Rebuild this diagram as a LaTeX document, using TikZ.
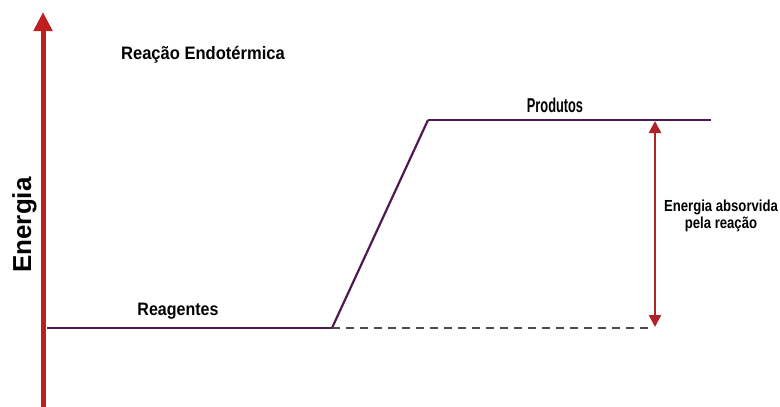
\documentclass[tikz,border=0pt]{standalone}
\usepackage{fontspec}
\setmainfont{Liberation Sans}
\usetikzlibrary{arrows.meta}
\definecolor{axisred}{RGB}{190,30,30}
\definecolor{levelpurple}{RGB}{80,25,80}
\definecolor{deltared}{RGB}{175,35,40}

\begin{document}
\begin{tikzpicture}[x=1pt,y=-1pt, level line/.style={line width=2.2pt,levelpurple}, label text/.style={font=\bfseries\fontsize{18}{17}\selectfont,inner sep=0pt,align=center,anchor=base}]
  \useasboundingbox (0,0) rectangle (780,407);

  \coordinate (a0) at (43,407);
  \coordinate (a1) at (43,12);
  \coordinate (r0) at (47,328);
  \coordinate (r1) at (332,328);
  \coordinate (p0) at (428,120);
  \coordinate (p1) at (711,120);
  \coordinate (d0) at (651,328);
  \coordinate (h0) at (655,121);
  \coordinate (h1) at (655,327);

  \node[label text,xscale=0.92] (title) at (203,59) {Reação Endotérmica};
  \node[label text,xscale=0.89] (reag) at (178,315) {Reagentes};
  \node[label text,font=\bfseries\fontsize{20}{17}\selectfont,xscale=0.64] (prod) at (555,112) {Produtos};
  \node[label text,font=\bfseries\fontsize{16}{17}\selectfont,xscale=0.82,anchor=center] (delta) at (721,216) {Energia absorvida\\pela reação};
  \node[rotate=90,anchor=base,inner sep=0pt,font=\bfseries\fontsize{26}{28}\selectfont] (energy) at (31,225) {Energia};

 \path[] (a0) [-{Triangle[width=18pt,length=19pt]},line width=5pt,axisred] edge node [] {} (a1);
 \path[] (r0) [level line] edge node [] {} (r1);
 \path[] (r1) [level line] edge node [] {} (p0);
 \path[] (p0) [level line] edge node [] {} (p1);
 \path[] (r1) [line width=1.4pt,dashed,dash pattern=on 8pt off 6pt,black!70] edge node [] {} (d0);
 \path[] (h0) [{Triangle[width=12pt,length=12pt]}-{Triangle[width=12pt,length=12pt]},line width=2.5pt,deltared] edge node [] {} (h1);
\end{tikzpicture}
\end{document}
